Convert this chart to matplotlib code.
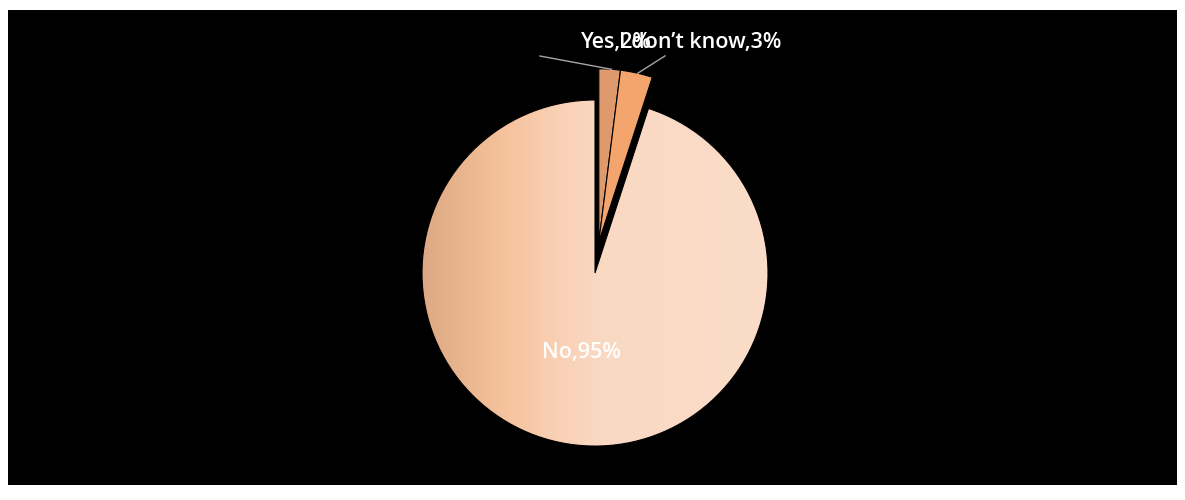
import matplotlib
matplotlib.use("Agg")
import matplotlib.pyplot as plt
import numpy as np
from matplotlib.colors import LinearSegmentedColormap

# Survey answers (percent)
categories = ["Yes", "I don\u2019t know", "No"]
values = [2, 3, 95]
slice_colors = ["#DE9A6C", "#F4A56D", "#F9DCC8"]

fig = plt.figure(figsize=(11.85, 5.0), dpi=100, facecolor="white")
ax = fig.add_axes([8 / 1185, 15 / 500, 1169 / 1185, 475 / 500])
ax.set_facecolor("black")

wedges, _ = ax.pie(
    values,
    colors=slice_colors,
    startangle=90,
    counterclock=False,
    radius=1.0,
    wedgeprops=dict(edgecolor="black", linewidth=0.8),
)

# Horizontal shading across the large slice
shade = LinearSegmentedColormap.from_list(
    "shade",
    [(0.0, "#DDA984"), (0.12, "#E9B68F"), (0.25, "#F6C49F"),
     (0.38, "#F9CFB3"), (0.52, "#FAD9C3"), (1.0, "#FADCC8")],
)
big = wedges[2]
grad = np.linspace(0, 1, 512).reshape(1, -1)
im = ax.imshow(grad, cmap=shade, extent=(-1, 1, -1, 1), aspect="auto",
               interpolation="bicubic", zorder=2)
im.set_clip_path(big)
big.set_facecolor("none")
big.set_zorder(2.1)

# Pull the two small slices out together, drawn above the large one
pull = (0.022, 0.18)
for w in wedges[:2]:
    w.set_center((pull[0], pull[1]))
    w.set_zorder(3)

ax.set_xlim(-3.393, 3.364)
ax.set_ylim(-1.225, 1.520)
ax.set_aspect("auto")
ax.axis("off")
ax.add_patch(plt.Rectangle((0, 0), 1, 1, transform=ax.transAxes,
                           facecolor="black", zorder=-10))

labels = [f"{c},{v}%" for c, v in zip(categories, values)]
txt_kw = dict(color="white", fontsize=15.5, fontweight="semibold",
              family=["Open Sans", "DejaVu Sans"], ha="center", va="center",
              zorder=20)

# Small slices: labels above the pie, with leader lines to the wedge tops
label_pos = {0: (0.123, 1.33), 1: (0.607, 1.33)}
line_start = {0: (-0.318, 1.254), 1: (0.405, 1.255)}
tip_angle = {0: wedges[0].theta1 + 3.0, 1: wedges[1].theta1 + 5.0}
for i in (0, 1):
    w = wedges[i]
    cx, cy = w.center
    a = np.deg2rad(tip_angle[i])
    tip = (cx + w.r * np.cos(a), cy + w.r * np.sin(a))
    ax.plot([line_start[i][0], tip[0]], [line_start[i][1], tip[1]],
            color="#A6A6A6", linewidth=1.0, zorder=15)
    ax.text(*label_pos[i], labels[i], **txt_kw)

ax.text(-0.081, -0.457, labels[2], **txt_kw)

fig.savefig("out.png", dpi=100, facecolor="white")
